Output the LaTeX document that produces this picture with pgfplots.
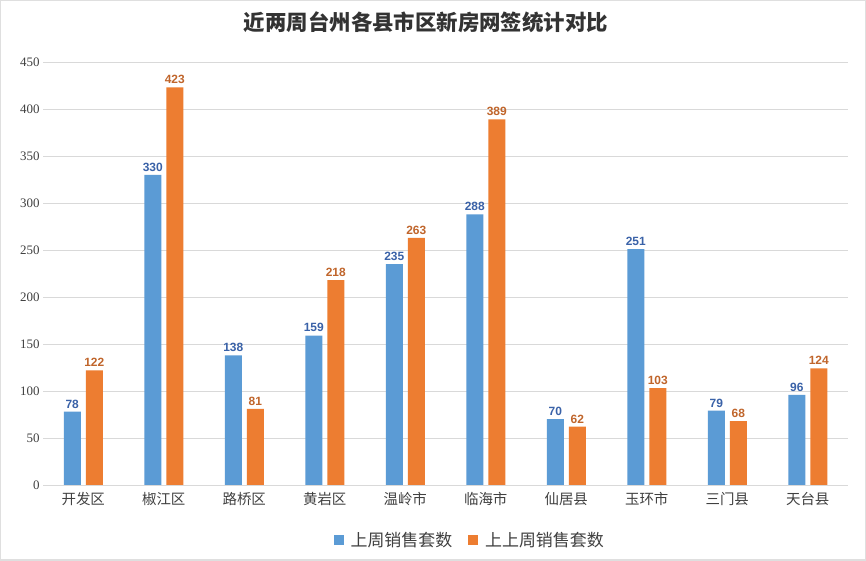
\documentclass[border=0pt]{standalone}
\usepackage{pgfplots}
\pgfplotsset{compat=1.18}
\usepackage{fontspec}
\setmainfont{Liberation Serif}
\newfontfamily\lsans{Liberation Sans}
\newfontfamily\cjk{Noto Sans CJK SC}
\definecolor{cblue}{HTML}{5B9BD5}
\definecolor{corange}{HTML}{ED7D31}
\definecolor{lblue}{HTML}{3A62A8}
\definecolor{lorange}{HTML}{C0652B}
\definecolor{gridc}{HTML}{D9D9D9}
\pgfplotstableread{
x last prev
0 78 122
1 330 423
2 138 81
3 159 218
4 235 263
5 288 389
6 70 62
7 251 103
8 79 68
9 96 124
}\datatable
\begin{document}
\begin{tikzpicture}[x=1bp,y=1bp]
\fill[white] (0,0) rectangle (866,561);
\draw[gray!25,line width=1.5bp] (0.75,0.75) rectangle (865.25,560.25);
\node[font=\cjk\bfseries\fontsize{21.5}{26}\selectfont, text=black!80] at (426,539) {近两周台州各县市区新房网签统计对比};
\begin{axis}[
  at={(43bp,76bp)}, anchor=south west,
  scale only axis, width=805bp, height=423bp,
  xmin=-0.5, xmax=9.5, ymin=0, ymax=450,
  ytick={0,50,...,450},
  xtick=data,
  xticklabels={开发区,椒江区,路桥区,黄岩区,温岭市,临海市,仙居县,玉环市,三门县,天台县},
  xticklabel style={font=\cjk\fontsize{14.5}{16}\selectfont, text=black!75, yshift=-4bp},
  yticklabel style={font=\fontsize{13}{15}\selectfont, text=black!75},
  /pgf/number format/assume math mode=true,
  major tick length=0pt,
  axis line style={draw=none},
  ymajorgrids, grid style={gridc, line width=0.8bp},
  ybar, bar width=17bp,
  nodes near coords,
  nodes near coords style={font=\lsans\bfseries\fontsize{12}{14}\selectfont},
  legend style={at={(0.53,-0.13)}, anchor=center, draw=none, legend columns=2,
    font=\cjk\fontsize{17}{20}\selectfont, text=black!75,
    /tikz/every odd column/.append style={column sep=5bp},
    /tikz/every even column/.append style={column sep=14bp}},
  legend image code/.code={\fill[#1] (0bp,-5bp) rectangle (10bp,5bp);},
]
\addplot[fill=cblue, draw=none, bar shift=-11bp, nodes near coords style={text=lblue}] table[x=x,y=last]{\datatable};
\addplot[fill=corange, draw=none, bar shift=11bp, nodes near coords style={text=lorange}] table[x=x,y=prev]{\datatable};
\legend{上周销售套数,上上周销售套数}
\end{axis}
\end{tikzpicture}
\end{document}
